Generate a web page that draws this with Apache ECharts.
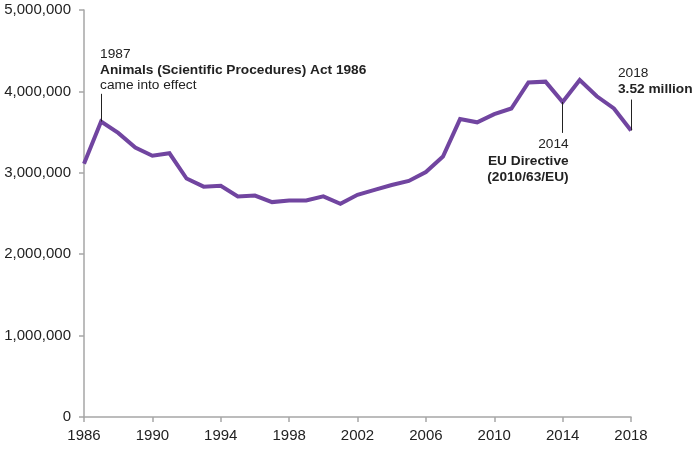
<!DOCTYPE html>
<html><head><meta charset="utf-8">
<script src="https://cdn.jsdelivr.net/npm/echarts@6/dist/echarts.min.js"></script>
<style>html,body{margin:0;padding:0;background:#fff}#c{width:698px;height:450px}</style>
</head><body><div id="c"></div>
<script>
const years = ['1986','1987','1988','1989','1990','1991','1992','1993','1994','1995','1996','1997','1998','1999','2000','2001','2002','2003','2004','2005','2006','2007','2008','2009','2010','2011','2012','2013','2014','2015','2016','2017','2018'];
const procedures = [3110000,3630000,3490000,3310000,3210000,3240000,2930000,2830000,2840000,2710000,2720000,2640000,2660000,2660000,2710000,2620000,2730000,2790000,2850000,2900000,3010000,3200000,3660000,3620000,3720000,3790000,4110000,4120000,3870000,4140000,3940000,3790000,3520000];
const yTicks = [0,1000000,2000000,3000000,4000000,5000000];
// annotation leader lines: [year, from value (data point), to value]
const notes = [
  {year:'1987', to:3970000},
  {year:'2014', to:3490000},
  {year:'2018', to:3900000}
];
const FONT = '"Liberation Sans", Arial, sans-serif';
const chart = echarts.init(document.getElementById('c'));
const valOf = y => procedures[years.indexOf(y)];
chart.setOption({
  animation:false,
  grid:{left:84,right:67,top:10,bottom:33},
  xAxis:{type:'category',data:years,boundaryGap:false,
    axisLine:{lineStyle:{color:'#a6a6a6',width:1.5}},
    axisTick:{interval:3,length:5,lineStyle:{color:'#a6a6a6',width:1.5}},
    axisLabel:{interval:3,color:'#222',fontFamily:FONT,fontSize:15,margin:11},
    splitLine:{show:false}},
  yAxis:{type:'value',min:yTicks[0],max:yTicks[yTicks.length-1],interval:1000000,
    axisLine:{show:true,lineStyle:{color:'#a6a6a6',width:1.5}},
    axisTick:{show:true,length:5,lineStyle:{color:'#a6a6a6',width:1.5}},
    axisLabel:{color:'#222',fontFamily:FONT,fontSize:15,margin:13,
      formatter:v=>v.toLocaleString('en-GB')},
    splitLine:{show:false}},
  series:[{type:'line',data:procedures,symbol:'none',
    lineStyle:{color:'#7145a0',width:4,join:'miter'},
    markLine:{silent:true,symbol:'none',animation:false,
      lineStyle:{color:'#222',width:1,type:'solid'},label:{show:false},
      data:notes.map(n=>[{coord:[n.year,valOf(n.year)]},{coord:[n.year,n.to]}])}
  }]
});
function px(y,v){return chart.convertToPixel({xAxisIndex:0,yAxisIndex:0},[y,v]);}
const p87 = px('1987', notes[0].to);
const p14 = px('2014', notes[1].to);
const p18 = px('2018', notes[2].to);
const fs = 13.7;
function txt(x,y,s,bold,align){return {type:'text',x:x,y:y,style:{text:s,fill:'#222',font:(bold?'bold ':'')+fs+'px '+FONT,textAlign:align||'left',textVerticalAlign:'middle'}};}
chart.setOption({graphic:[
  txt(p87[0]-1,p87[1]-40,'1987',false),
  txt(p87[0]-1,p87[1]-24,'Animals (Scientific Procedures) Act 1986',true),
  txt(p87[0]-1,p87[1]-9,'came into effect',false),
  txt(p14[0]+6,p14[1]+11,'2014',false,'right'),
  txt(p14[0]+6,p14[1]+28,'EU Directive',true,'right'),
  txt(p14[0]+6,p14[1]+44,'(2010/63/EU)',true,'right'),
  txt(p18[0]-13,p18[1]-26,'2018',false),
  txt(p18[0]-13,p18[1]-10,'3.52 million',true)
]});
</script></body></html>
